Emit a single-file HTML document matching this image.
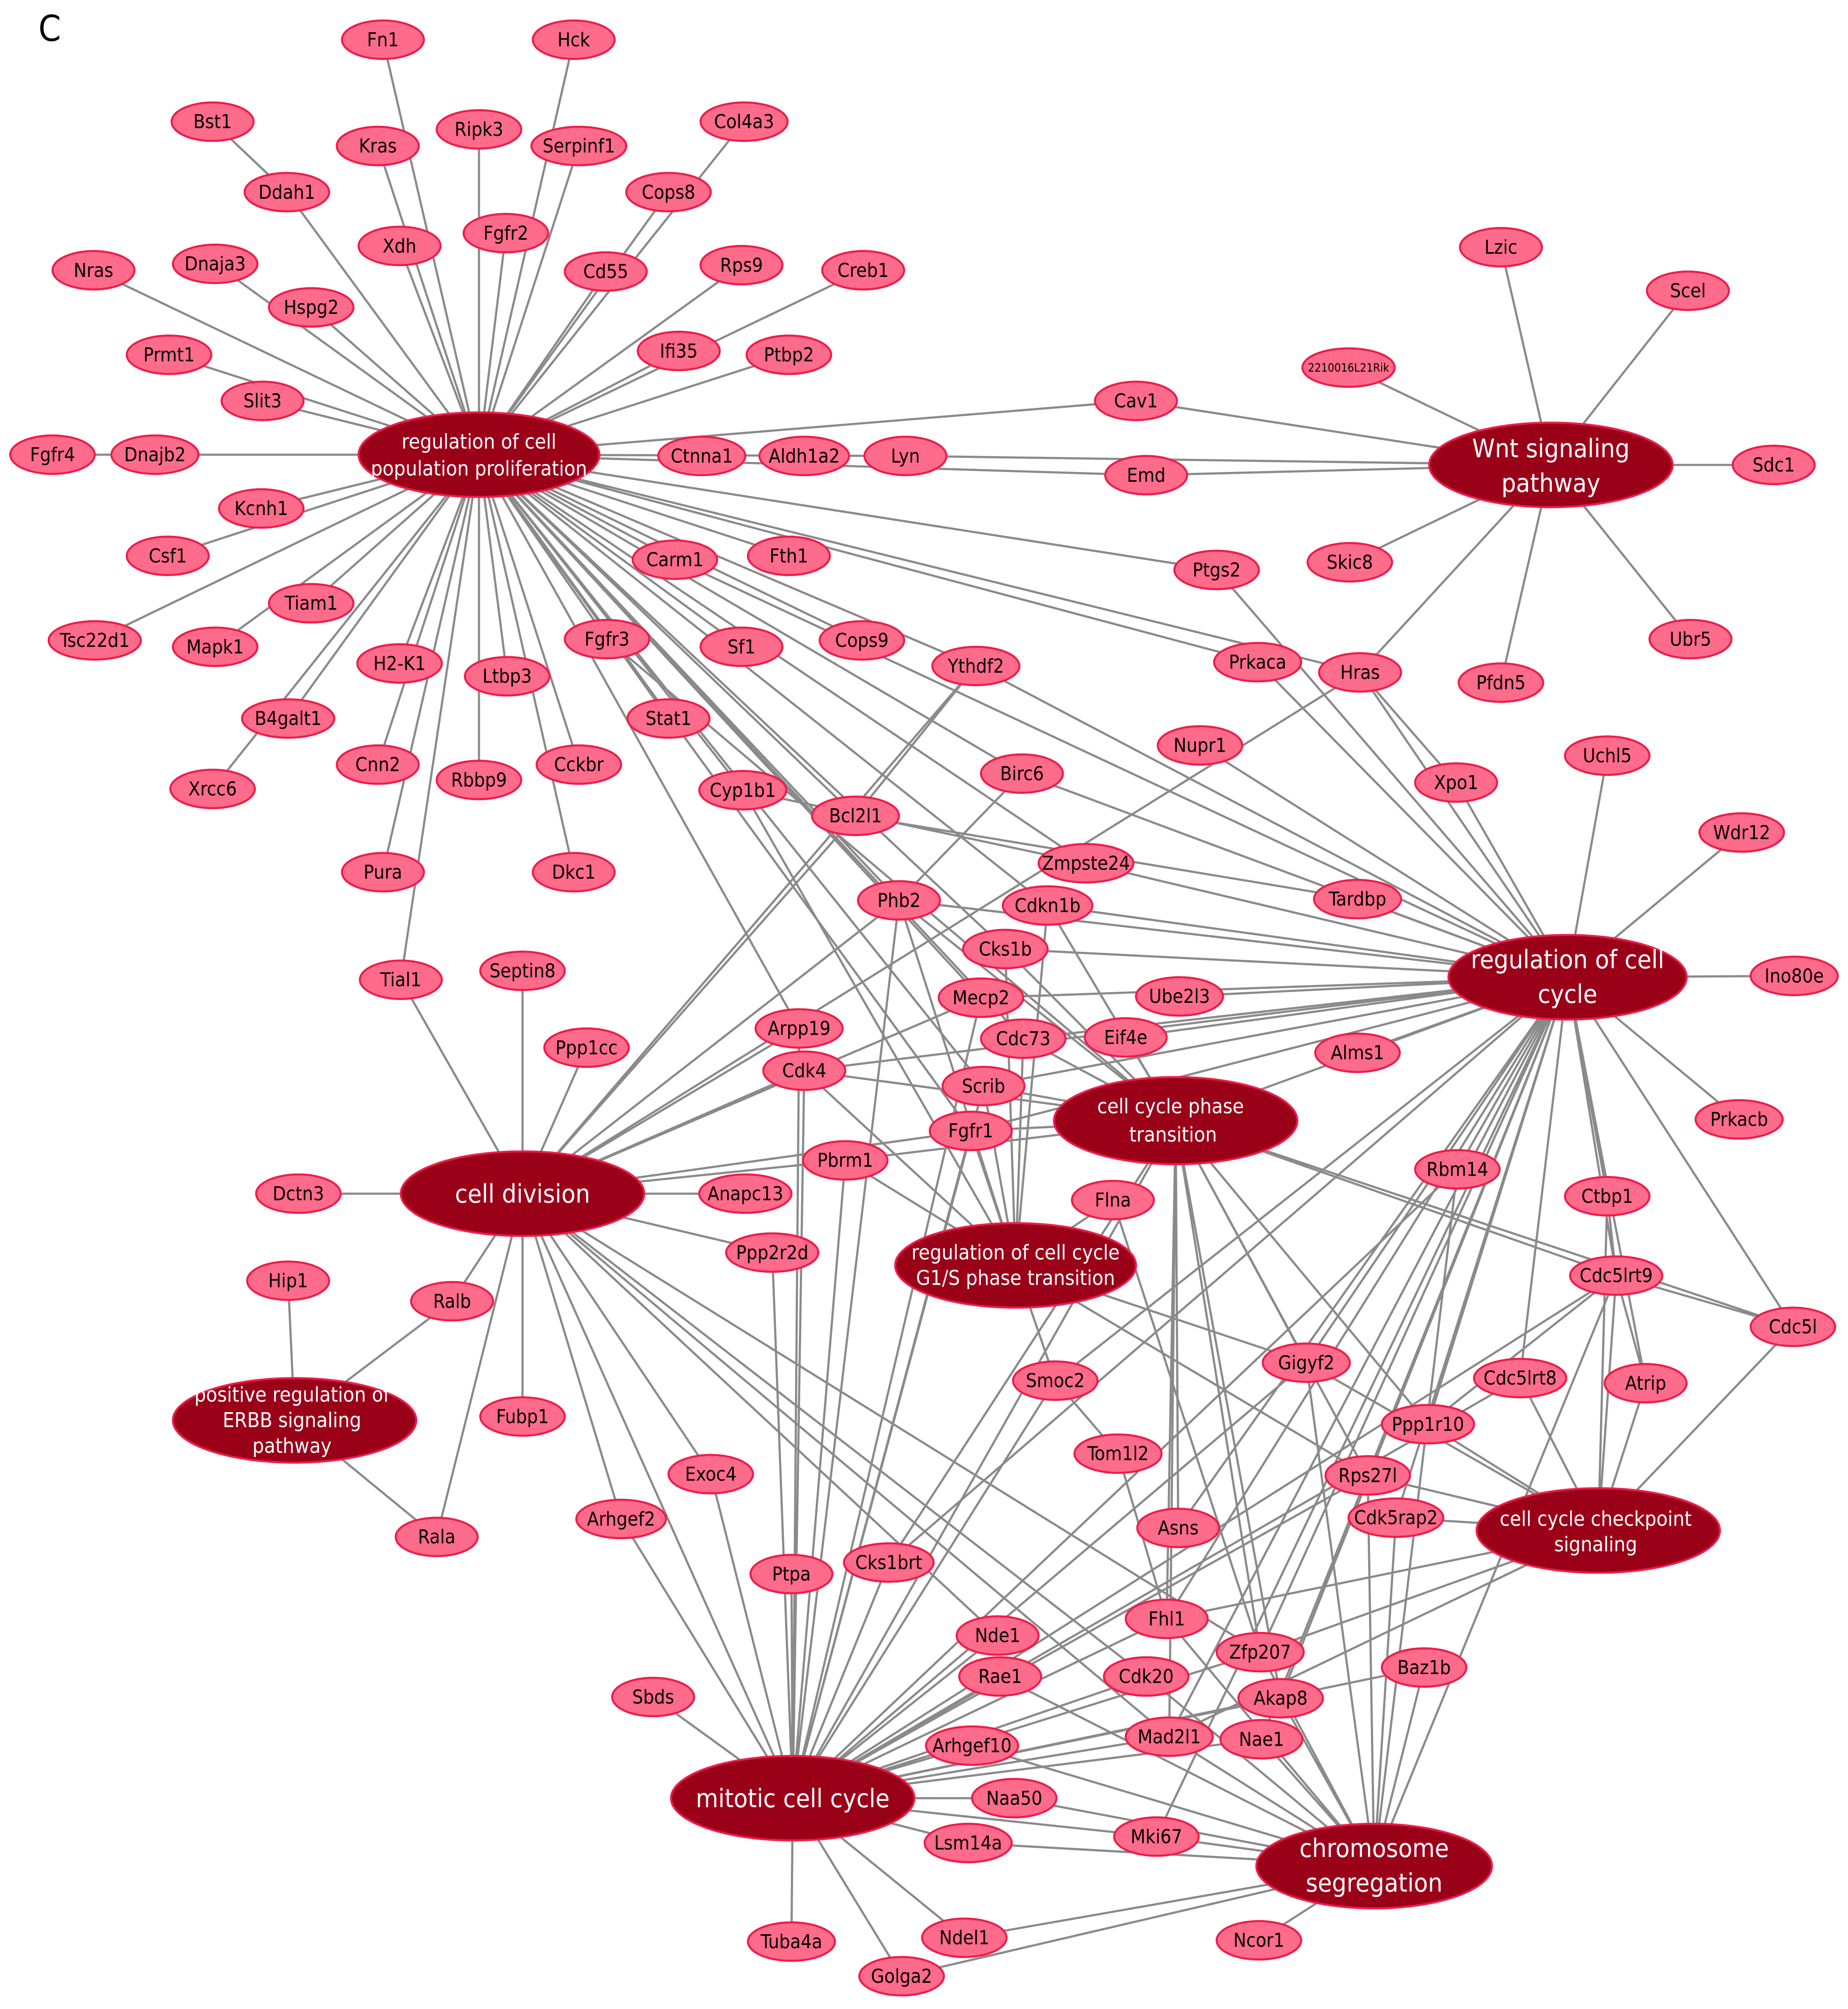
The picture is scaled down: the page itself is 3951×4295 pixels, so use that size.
<!DOCTYPE html>
<html><head><meta charset="utf-8"><style>
html,body{margin:0;padding:0;background:#fff;}
svg{display:block;}
.e{stroke:#8a8a8a;stroke-width:1.7;fill:none;}
.n ellipse{fill:#ff6b8a;stroke:#ee1c4a;stroke-width:1.6;}
.n text{font-family:"DejaVu Sans Condensed","DejaVu Sans","Liberation Sans",sans-serif;font-size:15px;fill:#000;text-anchor:middle;dominant-baseline:central;}
.b ellipse{fill:#9b0019;stroke:#ee1c4a;stroke-width:1.6;}
.b text{font-family:"DejaVu Sans Condensed","DejaVu Sans","Liberation Sans",sans-serif;font-size:20px;fill:#fff;text-anchor:middle;dominant-baseline:central;}
.b text.s{font-size:16px;}
</style></head><body>
<svg width="3951" height="4295" viewBox="0 0 1443 1568.6" xmlns="http://www.w3.org/2000/svg">
<text x="30" y="32" font-family="DejaVu Sans Condensed,DejaVu Sans,sans-serif" font-size="28" fill="#000">C</text>
<path class="e" d="
M374 355L299 31M374 355L448 31M374 355L224 150L166 95M374 355L581 95M374 355L295 114M374 355L374 101M374 355L452 114M374 355L522 150M374 355L312 192M374 355L395 182M374 355L473 212M374 355L579 207M374 355L674 211M374 355L73 211M374 355L168 206M374 355L243 240M374 355L530 274M374 355L616 277M374 355L132 277M374 355L205 313M374 355L41 355M374 355L204 397M374 355L131 434M374 355L243 471M374 355L74 500M374 355L168 505M374 355L312 518M374 355L396 528M374 355L474 499M374 355L225 561M374 355L166 616M374 355L295 597M374 355L374 609M374 355L452 597M374 355L299 681M374 355L448 681M374 355L313 765M374 355L707 356M374 355L887 313M374 355L895 371M374 355L527 437M374 355L616 434M374 355L950 445M374 355L673 500M374 355L762 520M374 355L579 505M374 355L522 561M374 355L580 617M374 355L668 637M374 355L982 517M374 355L1062 525M374 355L798 604M374 355L702 703M374 355L818 707M374 355L766 779M374 355L624 803M374 355L799 811M374 355L768 848M374 355L758 883M374 355L848 674M374 355L785 741
M1211 363L1172 193M1211 363L1318 227M1211 363L1053 287M1211 363L887 313M1211 363L895 371M1211 363L1385 363M1211 363L1054 439M1211 363L1320 499M1211 363L1172 533M1211 363L1062 525M1211 363L707 356
M1224 763L1255 590M1224 763L1360 650M1224 763L1401 762M1224 763L1358 874M1224 763L1060 822M1224 763L1060 702M1224 763L1137 611M1224 763L1062 525M1224 763L982 517M1224 763L950 445M1224 763L937 582M1224 763L848 674M1224 763L818 707M1224 763L702 703M1224 763L785 741M1224 763L766 779M1224 763L921 778M1224 763L799 811M1224 763L879 810M1224 763L628 836M1224 763L768 848M1224 763L758 883M1224 763L798 604M1224 763L762 520M1224 763L1255 934M1224 763L1262 996M1224 763L1400 1036M1224 763L1285 1080M1224 763L1187 1076M1224 763L1138 913M1224 763L1115 1112M1224 763L1068 1152M1224 763L1090 1185M1224 763L1020 1064M1224 763L824 1078M1224 763L984 1290M1224 763L1000 1326M1224 763L913 1356M1224 763L911 1264M1224 763L694 1220M1224 763L920 1193M1224 763L903 1434M1224 763L985 1358M1224 763L918 875M1224 763L527 437M1224 763L1062 525
M408 932L313 765M408 932L408 758M408 932L458 818M408 932L233 932M408 932L582 932M408 932L353 1016M408 932L408 1106M408 932L341 1200M408 932L555 1151M408 932L485 1186M408 932L603 978M408 932L660 906M408 932L758 883M408 932L628 836M408 932L624 803M408 932L702 703M408 932L668 637M408 932L762 520M408 932L766 779M408 932L895 1309M408 932L913 1356M408 932L779 1277M408 932L984 1290M408 932L619 1404M408 932L1062 525
M230 1109L225 1000M230 1109L353 1016M230 1109L341 1200
M918 875L768 848M918 875L758 883M918 875L628 836M918 875L702 703M918 875L785 741M918 875L799 811M918 875L879 810M918 875L818 707M918 875L660 906M918 875L1262 996M918 875L1400 1036M918 875L1020 1064M918 875L1068 1152M918 875L984 1290M918 875L1000 1326M918 875L920 1193M918 875L911 1264M918 875L913 1356M918 875L694 1220M918 875L1115 1112M918 875L619 1404M918 875L474 499
M793 988L702 703M793 988L818 707M793 988L785 741M793 988L799 811M793 988L768 848M793 988L758 883M793 988L660 906M793 988L824 1078M793 988L1020 1064M793 988L628 836M793 988L1068 1152M793 988L869 937M793 988L580 617
M1248 1195L1400 1036M1248 1195L1285 1080M1248 1195L1187 1076M1248 1195L1262 996M1248 1195L1255 934M1248 1195L1068 1152M1248 1195L1115 1112M1248 1195L1090 1185M1248 1195L984 1290M1248 1195L1020 1064M1248 1195L911 1264M1248 1195L913 1356
M619 1404L510 1325M619 1404L618 1516M619 1404L704 1543M619 1404L753 1513M619 1404L756 1439M619 1404L792 1404M619 1404L759 1363M619 1404L903 1434M619 1404L781 1309M619 1404L779 1277M619 1404L618 1229M619 1404L555 1151M619 1404L485 1186M619 1404L694 1220M619 1404L603 978M619 1404L628 836M619 1404L660 906M619 1404L758 883M619 1404L768 848M619 1404L766 779M619 1404L702 703M619 1404L984 1290M619 1404L1000 1326M619 1404L913 1356M619 1404L911 1264M619 1404L1020 1064M619 1404L824 1078M619 1404L895 1309M619 1404L1112 1302M619 1404L985 1358M619 1404L624 803M619 1404L1187 1076M619 1404L1262 996M619 1404L1068 1152M619 1404L408 932M619 1404L1138 913
M1073 1457L983 1515M1073 1457L704 1543M1073 1457L753 1513M1073 1457L903 1434M1073 1457L756 1439M1073 1457L792 1404M1073 1457L759 1363M1073 1457L985 1358M1073 1457L1000 1326M1073 1457L984 1290M1073 1457L913 1356M1073 1457L1112 1302M1073 1457L1090 1185M1073 1457L781 1309M1073 1457L1020 1064M1073 1457L1068 1152M1073 1457L911 1264M1073 1457L1138 913M1073 1457L1262 996M1073 1457L895 1309
M873 1135L824 1078M873 1135L911 1264M869 937L984 1290M1115 1112L1262 996M1285 1080L1262 996M1255 934L1262 996M1262 996L1400 1036M1060 702L668 637M1137 611L1062 525M668 637L762 520M702 703L798 604M580 617L848 674
"/>
<g class="n">
<ellipse cx="299" cy="31" rx="32" ry="15"/><text x="299" y="31">Fn1</text>
<ellipse cx="448" cy="31" rx="32" ry="15"/><text x="448" y="31">Hck</text>
<ellipse cx="166" cy="95" rx="32" ry="15"/><text x="166" y="95">Bst1</text>
<ellipse cx="581" cy="95" rx="34" ry="15"/><text x="581" y="95">Col4a3</text>
<ellipse cx="295" cy="114" rx="32" ry="15"/><text x="295" y="114">Kras</text>
<ellipse cx="374" cy="101" rx="33" ry="15"/><text x="374" y="101">Ripk3</text>
<ellipse cx="452" cy="114" rx="37" ry="15"/><text x="452" y="114">Serpinf1</text>
<ellipse cx="224" cy="150" rx="33" ry="15"/><text x="224" y="150">Ddah1</text>
<ellipse cx="522" cy="150" rx="33" ry="15"/><text x="522" y="150">Cops8</text>
<ellipse cx="312" cy="192" rx="32" ry="15"/><text x="312" y="192">Xdh</text>
<ellipse cx="395" cy="182" rx="33" ry="15"/><text x="395" y="182">Fgfr2</text>
<ellipse cx="473" cy="212" rx="32" ry="15"/><text x="473" y="212">Cd55</text>
<ellipse cx="579" cy="207" rx="32" ry="15"/><text x="579" y="207">Rps9</text>
<ellipse cx="674" cy="211" rx="32" ry="15"/><text x="674" y="211">Creb1</text>
<ellipse cx="73" cy="211" rx="32" ry="15"/><text x="73" y="211">Nras</text>
<ellipse cx="168" cy="206" rx="33" ry="15"/><text x="168" y="206">Dnaja3</text>
<ellipse cx="243" cy="240" rx="33" ry="15"/><text x="243" y="240">Hspg2</text>
<ellipse cx="530" cy="274" rx="32" ry="15"/><text x="530" y="274">Ifi35</text>
<ellipse cx="616" cy="277" rx="33" ry="15"/><text x="616" y="277">Ptbp2</text>
<ellipse cx="132" cy="277" rx="33" ry="15"/><text x="132" y="277">Prmt1</text>
<ellipse cx="205" cy="313" rx="32" ry="15"/><text x="205" y="313">Slit3</text>
<ellipse cx="41" cy="355" rx="33" ry="15"/><text x="41" y="355">Fgfr4</text>
<ellipse cx="121" cy="355" rx="34" ry="15"/><text x="121" y="355">Dnajb2</text>
<ellipse cx="204" cy="397" rx="33" ry="15"/><text x="204" y="397">Kcnh1</text>
<ellipse cx="131" cy="434" rx="32" ry="15"/><text x="131" y="434">Csf1</text>
<ellipse cx="243" cy="471" rx="33" ry="15"/><text x="243" y="471">Tiam1</text>
<ellipse cx="74" cy="500" rx="36" ry="15"/><text x="74" y="500">Tsc22d1</text>
<ellipse cx="168" cy="505" rx="33" ry="15"/><text x="168" y="505">Mapk1</text>
<ellipse cx="312" cy="518" rx="33" ry="15"/><text x="312" y="518">H2-K1</text>
<ellipse cx="396" cy="528" rx="33" ry="15"/><text x="396" y="528">Ltbp3</text>
<ellipse cx="474" cy="499" rx="33" ry="15"/><text x="474" y="499">Fgfr3</text>
<ellipse cx="225" cy="561" rx="36" ry="15"/><text x="225" y="561">B4galt1</text>
<ellipse cx="166" cy="616" rx="33" ry="15"/><text x="166" y="616">Xrcc6</text>
<ellipse cx="295" cy="597" rx="32" ry="15"/><text x="295" y="597">Cnn2</text>
<ellipse cx="374" cy="609" rx="33" ry="15"/><text x="374" y="609">Rbbp9</text>
<ellipse cx="452" cy="597" rx="33" ry="15"/><text x="452" y="597">Cckbr</text>
<ellipse cx="299" cy="681" rx="32" ry="15"/><text x="299" y="681">Pura</text>
<ellipse cx="448" cy="681" rx="32" ry="15"/><text x="448" y="681">Dkc1</text>
<ellipse cx="313" cy="765" rx="32" ry="15"/><text x="313" y="765">Tial1</text>
<ellipse cx="408" cy="758" rx="33" ry="15"/><text x="408" y="758">Septin8</text>
<ellipse cx="458" cy="818" rx="33" ry="15"/><text x="458" y="818">Ppp1cc</text>
<ellipse cx="233" cy="932" rx="33" ry="15"/><text x="233" y="932">Dctn3</text>
<ellipse cx="582" cy="932" rx="36" ry="15"/><text x="582" y="932">Anapc13</text>
<ellipse cx="225" cy="1000" rx="32" ry="15"/><text x="225" y="1000">Hip1</text>
<ellipse cx="353" cy="1016" rx="32" ry="15"/><text x="353" y="1016">Ralb</text>
<ellipse cx="408" cy="1106" rx="33" ry="15"/><text x="408" y="1106">Fubp1</text>
<ellipse cx="341" cy="1200" rx="32" ry="15"/><text x="341" y="1200">Rala</text>
<ellipse cx="485" cy="1186" rx="35" ry="15"/><text x="485" y="1186">Arhgef2</text>
<ellipse cx="555" cy="1151" rx="33" ry="15"/><text x="555" y="1151">Exoc4</text>
<ellipse cx="618" cy="1229" rx="32" ry="15"/><text x="618" y="1229">Ptpa</text>
<ellipse cx="510" cy="1325" rx="32" ry="15"/><text x="510" y="1325">Sbds</text>
<ellipse cx="618" cy="1516" rx="34" ry="15"/><text x="618" y="1516">Tuba4a</text>
<ellipse cx="704" cy="1543" rx="33" ry="15"/><text x="704" y="1543">Golga2</text>
<ellipse cx="753" cy="1513" rx="33" ry="15"/><text x="753" y="1513">Ndel1</text>
<ellipse cx="756" cy="1439" rx="34" ry="15"/><text x="756" y="1439">Lsm14a</text>
<ellipse cx="792" cy="1404" rx="33" ry="15"/><text x="792" y="1404">Naa50</text>
<ellipse cx="759" cy="1363" rx="36" ry="15"/><text x="759" y="1363">Arhgef10</text>
<ellipse cx="903" cy="1434" rx="33" ry="15"/><text x="903" y="1434">Mki67</text>
<ellipse cx="983" cy="1515" rx="33" ry="15"/><text x="983" y="1515">Ncor1</text>
<ellipse cx="781" cy="1309" rx="32" ry="15"/><text x="781" y="1309">Rae1</text>
<ellipse cx="779" cy="1277" rx="32" ry="15"/><text x="779" y="1277">Nde1</text>
<ellipse cx="895" cy="1309" rx="33" ry="15"/><text x="895" y="1309">Cdk20</text>
<ellipse cx="911" cy="1264" rx="32" ry="15"/><text x="911" y="1264">Fhl1</text>
<ellipse cx="913" cy="1356" rx="34" ry="15"/><text x="913" y="1356">Mad2l1</text>
<ellipse cx="985" cy="1358" rx="32" ry="15"/><text x="985" y="1358">Nae1</text>
<ellipse cx="1000" cy="1326" rx="33" ry="15"/><text x="1000" y="1326">Akap8</text>
<ellipse cx="984" cy="1290" rx="34" ry="15"/><text x="984" y="1290">Zfp207</text>
<ellipse cx="1112" cy="1302" rx="33" ry="15"/><text x="1112" y="1302">Baz1b</text>
<ellipse cx="920" cy="1193" rx="32" ry="15"/><text x="920" y="1193">Asns</text>
<ellipse cx="694" cy="1220" rx="35" ry="15"/><text x="694" y="1220">Cks1brt</text>
<ellipse cx="873" cy="1135" rx="34" ry="15"/><text x="873" y="1135">Tom1l2</text>
<ellipse cx="824" cy="1078" rx="33" ry="15"/><text x="824" y="1078">Smoc2</text>
<ellipse cx="1020" cy="1064" rx="34" ry="15"/><text x="1020" y="1064">Gigyf2</text>
<ellipse cx="1115" cy="1112" rx="36" ry="15"/><text x="1115" y="1112">Ppp1r10</text>
<ellipse cx="1068" cy="1152" rx="33" ry="15"/><text x="1068" y="1152">Rps27l</text>
<ellipse cx="1090" cy="1185" rx="37" ry="15"/><text x="1090" y="1185">Cdk5rap2</text>
<ellipse cx="1187" cy="1076" rx="36" ry="15"/><text x="1187" y="1076">Cdc5lrt8</text>
<ellipse cx="1285" cy="1080" rx="32" ry="15"/><text x="1285" y="1080">Atrip</text>
<ellipse cx="1400" cy="1036" rx="33" ry="15"/><text x="1400" y="1036">Cdc5l</text>
<ellipse cx="1262" cy="996" rx="36" ry="15"/><text x="1262" y="996">Cdc5lrt9</text>
<ellipse cx="1255" cy="934" rx="33" ry="15"/><text x="1255" y="934">Ctbp1</text>
<ellipse cx="1138" cy="913" rx="33" ry="15"/><text x="1138" y="913">Rbm14</text>
<ellipse cx="1358" cy="874" rx="34" ry="15"/><text x="1358" y="874">Prkacb</text>
<ellipse cx="1060" cy="822" rx="33" ry="15"/><text x="1060" y="822">Alms1</text>
<ellipse cx="1401" cy="762" rx="34" ry="15"/><text x="1401" y="762">Ino80e</text>
<ellipse cx="1360" cy="650" rx="33" ry="15"/><text x="1360" y="650">Wdr12</text>
<ellipse cx="1255" cy="590" rx="33" ry="15"/><text x="1255" y="590">Uchl5</text>
<ellipse cx="1137" cy="611" rx="32" ry="15"/><text x="1137" y="611">Xpo1</text>
<ellipse cx="1060" cy="702" rx="34" ry="15"/><text x="1060" y="702">Tardbp</text>
<ellipse cx="937" cy="582" rx="33" ry="15"/><text x="937" y="582">Nupr1</text>
<ellipse cx="1062" cy="525" rx="32" ry="15"/><text x="1062" y="525">Hras</text>
<ellipse cx="982" cy="517" rx="34" ry="15"/><text x="982" y="517">Prkaca</text>
<ellipse cx="1172" cy="533" rx="33" ry="15"/><text x="1172" y="533">Pfdn5</text>
<ellipse cx="1320" cy="499" rx="32" ry="15"/><text x="1320" y="499">Ubr5</text>
<ellipse cx="1054" cy="439" rx="33" ry="15"/><text x="1054" y="439">Skic8</text>
<ellipse cx="1385" cy="363" rx="32" ry="15"/><text x="1385" y="363">Sdc1</text>
<ellipse cx="1318" cy="227" rx="32" ry="15"/><text x="1318" y="227">Scel</text>
<ellipse cx="1172" cy="193" rx="32" ry="15"/><text x="1172" y="193">Lzic</text>
<ellipse cx="1053" cy="287" rx="36" ry="15"/><text x="1053" y="287" style="font-size:9px">2210016L21Rik</text>
<ellipse cx="887" cy="313" rx="32" ry="15"/><text x="887" y="313">Cav1</text>
<ellipse cx="895" cy="371" rx="32" ry="15"/><text x="895" y="371">Emd</text>
<ellipse cx="707" cy="356" rx="32" ry="15"/><text x="707" y="356">Lyn</text>
<ellipse cx="628" cy="356" rx="35" ry="15"/><text x="628" y="356">Aldh1a2</text>
<ellipse cx="548" cy="356" rx="34" ry="15"/><text x="548" y="356">Ctnna1</text>
<ellipse cx="527" cy="437" rx="33" ry="15"/><text x="527" y="437">Carm1</text>
<ellipse cx="616" cy="434" rx="32" ry="15"/><text x="616" y="434">Fth1</text>
<ellipse cx="950" cy="445" rx="33" ry="15"/><text x="950" y="445">Ptgs2</text>
<ellipse cx="673" cy="500" rx="33" ry="15"/><text x="673" y="500">Cops9</text>
<ellipse cx="762" cy="520" rx="34" ry="15"/><text x="762" y="520">Ythdf2</text>
<ellipse cx="579" cy="505" rx="32" ry="15"/><text x="579" y="505">Sf1</text>
<ellipse cx="522" cy="561" rx="32" ry="15"/><text x="522" y="561">Stat1</text>
<ellipse cx="580" cy="617" rx="34" ry="15"/><text x="580" y="617">Cyp1b1</text>
<ellipse cx="668" cy="637" rx="34" ry="15"/><text x="668" y="637">Bcl2l1</text>
<ellipse cx="798" cy="604" rx="32" ry="15"/><text x="798" y="604">Birc6</text>
<ellipse cx="848" cy="674" rx="37" ry="15"/><text x="848" y="674">Zmpste24</text>
<ellipse cx="702" cy="703" rx="32" ry="15"/><text x="702" y="703">Phb2</text>
<ellipse cx="818" cy="707" rx="35" ry="15"/><text x="818" y="707">Cdkn1b</text>
<ellipse cx="785" cy="741" rx="33" ry="15"/><text x="785" y="741">Cks1b</text>
<ellipse cx="766" cy="779" rx="33" ry="15"/><text x="766" y="779">Mecp2</text>
<ellipse cx="921" cy="778" rx="34" ry="15"/><text x="921" y="778">Ube2l3</text>
<ellipse cx="799" cy="811" rx="33" ry="15"/><text x="799" y="811">Cdc73</text>
<ellipse cx="879" cy="810" rx="32" ry="15"/><text x="879" y="810">Eif4e</text>
<ellipse cx="624" cy="803" rx="34" ry="15"/><text x="624" y="803">Arpp19</text>
<ellipse cx="628" cy="836" rx="32" ry="15"/><text x="628" y="836">Cdk4</text>
<ellipse cx="768" cy="848" rx="32" ry="15"/><text x="768" y="848">Scrib</text>
<ellipse cx="758" cy="883" rx="32" ry="15"/><text x="758" y="883">Fgfr1</text>
<ellipse cx="660" cy="906" rx="33" ry="15"/><text x="660" y="906">Pbrm1</text>
<ellipse cx="603" cy="978" rx="36" ry="15"/><text x="603" y="978">Ppp2r2d</text>
<ellipse cx="869" cy="937" rx="32" ry="15"/><text x="869" y="937">Flna</text>
</g>
<g class="b">
<ellipse cx="374" cy="355" rx="94" ry="33"/><text class="s" x="374" y="345">regulation of cell</text><text class="s" x="374" y="366">population proliferation</text>
<ellipse cx="1211" cy="363" rx="95" ry="33"/><text x="1211" y="350">Wnt signaling</text><text x="1211" y="377">pathway</text>
<ellipse cx="1224" cy="763" rx="93" ry="33"/><text x="1224" y="749">regulation of cell</text><text x="1224" y="776">cycle</text>
<ellipse cx="918" cy="875" rx="95" ry="34"/><text class="s" x="914" y="864">cell cycle phase</text><text class="s" x="916" y="886">transition</text>
<ellipse cx="408" cy="932" rx="95" ry="33"/><text x="408" y="932">cell division</text>
<ellipse cx="793" cy="988" rx="94" ry="33"/><text class="s" x="793" y="978">regulation of cell cycle</text><text class="s" x="793" y="998">G1/S phase transition</text>
<ellipse cx="230" cy="1109" rx="95" ry="33"/><text class="s" x="228" y="1089">positive regulation of</text><text class="s" x="228" y="1109">ERBB signaling</text><text class="s" x="228" y="1129">pathway</text>
<ellipse cx="1248" cy="1195" rx="95" ry="33"/><text class="s" x="1246" y="1186">cell cycle checkpoint</text><text class="s" x="1246" y="1206">signaling</text>
<ellipse cx="619" cy="1404" rx="95" ry="33"/><text x="619" y="1404">mitotic cell cycle</text>
<ellipse cx="1073" cy="1457" rx="92" ry="33"/><text x="1073" y="1443">chromosome</text><text x="1073" y="1470">segregation</text>
</g>
</svg>
</body></html>
